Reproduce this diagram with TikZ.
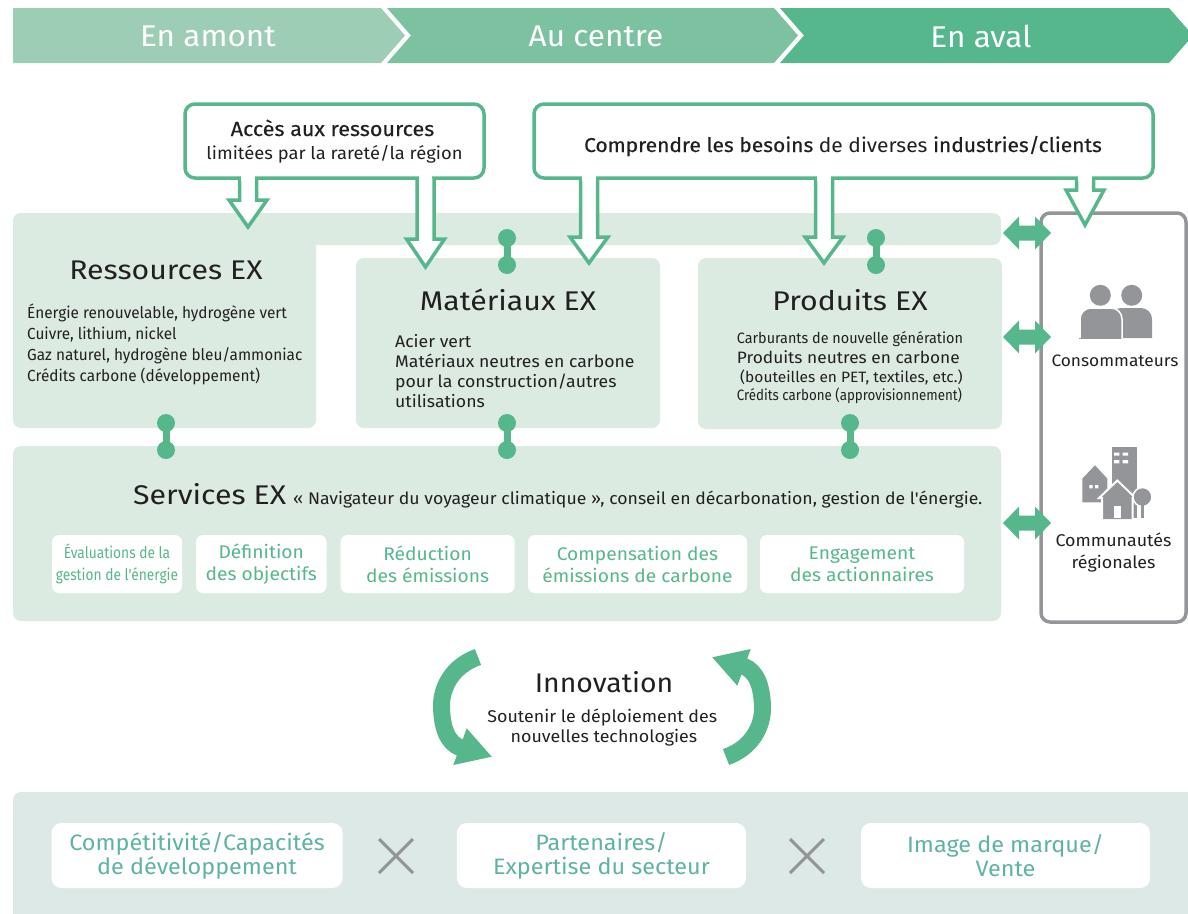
\documentclass[tikz,border=0pt]{standalone}
\usepackage{fontspec}
\setmainfont{Fira Sans}[FakeStretch=1.05,Ligatures=TeXOff]
\newfontfamily\cnd[FakeStretch=0.96]{Fira Sans}
\newfontfamily\xcnd[FakeStretch=0.86,Ligatures=TeXOff]{Fira Sans}
\newfontfamily\ttlf[FakeStretch=1.12]{Fira Sans}
\newfontfamily\medf[FakeStretch=1.05,FakeBold=0.35]{Fira Sans}
\definecolor{gr}{HTML}{56B78C}
\definecolor{chA}{HTML}{9DCDB4}
\definecolor{chB}{HTML}{7CC2A1}
\definecolor{pan}{HTML}{DCEBE1}
\definecolor{gry}{HTML}{939598}
\definecolor{botpan}{HTML}{DDE9E7}
\definecolor{tealt}{HTML}{5EB3A4}
\definecolor{ink}{HTML}{231F20}
\tikzset{
  panel/.style={fill=pan, rounded corners=8pt, inner sep=0pt, draw=none},
  wbox/.style={fill=white, rounded corners=7pt, inner sep=0pt, draw=none},
  bbox/.style={fill=white, rounded corners=10pt, inner sep=0pt, draw=none},
  callout/.style={draw=gr, fill=white, line width=3.5pt, line join=miter},
  hdr/.style={text=white, inner sep=0pt, font=\fontsize{30}{34}\selectfont},
  ttl/.style={text=ink, inner sep=0pt, font=\ttlf\fontsize{27}{30}\selectfont},
  lst/.style={text=ink, inner sep=0pt, anchor=base west},
  svc/.style={text=gr, inner sep=0pt, align=center, font=\fontsize{18.3}{22}\selectfont},
  btm/.style={text=tealt, inner sep=0pt, align=center, font=\fontsize{22.3}{24}\selectfont},
  dumbbell/.pic={\draw[gr, line width=7pt] (0,0) -- (0,27);
                 \fill[gr] (0,0) circle (9pt) (0,27) circle (9pt);},
  dblarrow/.pic={\fill[gr] (0,0) -- (16,-16.5) -- (16,-7.5) -- (32,-7.5) -- (32,-16.5) -- (48,0)
                 -- (32,16.5) -- (32,7.5) -- (16,7.5) -- (16,16.5) -- cycle;},
}
\newcommand\callarrow[3]{%
  \filldraw[callout] ({#1-8.5},178) -- ({#1-8.5},#2) -- ({#1-19},#2) -- (#1,#3) -- ({#1+19},#2) -- ({#1+8.5},#2) -- ({#1+8.5},178);
  \fill[white] ({#1-6.7},174) rectangle ({#1+6.7},181);}
\begin{document}
\begin{tikzpicture}[x=1pt,y=-1pt]
\useasboundingbox (0,0) rectangle (1188,913);
% header chevrons
\fill[chA] (13,8) -- (381,8) -- (405,35.5) -- (381,63) -- (13,63) -- cycle;
\fill[chB] (387,8) -- (774,8) -- (798,35.5) -- (774,63) -- (387,63) -- (411,35.5) -- cycle;
\fill[gr] (780,8) -- (1169,8) -- (1193,35.5) -- (1169,63) -- (780,63) -- (804,35.5) -- cycle;
\node[hdr] (h1) at (208,36) {En amont};
\node[hdr] (h2) at (596,36) {Au centre};
\node[hdr] (h3) at (981,36) {En aval};
% panels
\node[panel, minimum width=988pt, minimum height=32pt] (band) at (507,229) {};
\node[panel, minimum width=303pt, minimum height=215pt] (res) at (164.5,320.5) {};
\node[panel, minimum width=304pt, minimum height=170pt] (mat) at (508,343) {};
\node[panel, minimum width=304pt, minimum height=171pt] (pro) at (850,343.5) {};
\node[panel, minimum width=988pt, minimum height=175pt] (svc) at (507,533.5) {};
% dumbbells
\pic at (507,238) {dumbbell};
\pic at (876,238) {dumbbell};
\pic at (166,423) {dumbbell};
\pic at (507,423) {dumbbell};
\pic at (850,423) {dumbbell};
% side box
\node[draw=gry, line width=3.5pt, rounded corners=9pt, minimum width=145pt, minimum height=409pt, inner sep=0pt] (side) at (1113.5,417.5) {};
% people icon
\fill[gry] (1131.7,295.3) circle (10.5pt);
\fill[gry] (1110,338) [rounded corners=11pt] -- (1110,308) -- (1152,308) [sharp corners] -- (1152,338) -- cycle;
\fill[gry] (1100.3,295.3) circle (10.5pt);
\filldraw[fill=gry, draw=white, line width=1.5pt] (1080,338) [rounded corners=11pt] -- (1080,308) -- (1122,308) [sharp corners] -- (1122,338);
\fill[gry] (1079,337.5) rectangle (1121,339);
% buildings icon
\fill[gry] (1111.7,446.7) rectangle (1136.7,518);
\fill[white] (1114,452.7) rectangle (1119.3,455.7) (1122.7,452.7) rectangle (1128,455.7)
             (1114,460) rectangle (1119.3,463.3) (1122.7,460) rectangle (1128,463.3);
\filldraw[fill=gry, draw=white, line width=1.5pt] (1081.7,503) -- (1081.7,478) -- (1095,464) -- (1108,478) -- (1108,503) -- cycle;
\fill[white] (1089.3,485) rectangle (1092.7,488.3) (1095,485) rectangle (1098.3,488.3);
\filldraw[fill=gry, draw=white, line width=2pt] (1102,519) -- (1102,498) -- (1099,498) -- (1117.3,480.5) -- (1135.5,498) -- (1132.5,498) -- (1132.5,519);
\fill[white] (1114,506) rectangle (1120.5,518);
\filldraw[fill=gry, draw=white, line width=1.5pt] (1142.5,497) circle (9.5pt);
\fill[gry] (1140.8,504) rectangle (1144.2,518);
\node[text=ink, inner sep=0pt, anchor=base, font=\fontsize{16.5}{20}\selectfont] (cons) at (1115,366.8) {Consommateurs};
\node[text=ink, inner sep=0pt, anchor=base, font=\fontsize{17}{20}\selectfont] (comm1) at (1113.5,546.8) {Communautés};
\node[text=ink, inner sep=0pt, anchor=base, font=\fontsize{17}{20}\selectfont] (comm2) at (1113.5,568.8) {régionales};
% double arrows
\pic at (1003,233) {dblarrow};
\pic at (1003,337) {dblarrow};
\pic at (1003,523) {dblarrow};
% callouts
\node[draw=gr, fill=white, line width=3.5pt, rounded corners=10pt, minimum width=299pt, minimum height=74pt, inner sep=0pt] (c1) at (334.5,141) {};
\node[draw=gr, fill=white, line width=3.5pt, rounded corners=10pt, minimum width=619pt, minimum height=74pt, inner sep=0pt] (c2) at (843.5,141) {};
\callarrow{248}{200}{227}
\callarrow{425.5}{239}{267}
\callarrow{589}{237}{263}
\callarrow{824}{237}{263}
\callarrow{1085}{190}{225}
\node[text=ink, inner sep=0pt, anchor=base, font=\medf\fontsize{20.5}{22}\selectfont] (c1a) at (332.5,136) {Accès aux ressources};
\node[text=ink, inner sep=0pt, anchor=base, font=\fontsize{17.5}{20}\selectfont] (c1b) at (334.5,159.5) {limitées par la rareté/la région};
\node[text=ink, inner sep=0pt, anchor=base, font=\fontsize{20}{22}\selectfont] (c2a) at (843,152) {{\medf Comprendre les besoins} de diverses {\medf industries/clients}};
% titles
\node[ttl] (rt) at (166,270) {Ressources EX};
\node[ttl] (mt) at (508,300) {Matériaux EX};
\node[ttl] (pt) at (850,300) {Produits EX};
% ressources list
\begin{scope}[every node/.style={lst, font=\cnd\fontsize{16}{20}\selectfont}]
\node (r1) at (27,318.3) {Énergie renouvelable, hydrogène vert};
\node (r2) at (27,339.3) {Cuivre, lithium, nickel};
\node (r3) at (27,360.3) {Gaz naturel, hydrogène bleu/ammoniac};
\node (r4) at (27,381.3) {Crédits carbone (développement)};
\end{scope}
\begin{scope}[every node/.style={lst, font=\fontsize{16.8}{20}\selectfont}]
\node (m1) at (395,347.5) {Acier vert};
\node (m2) at (395,367.5) {Matériaux neutres en carbone};
\node (m3) at (395,387.5) {pour la construction/autres};
\node (m4) at (395,407.5) {utilisations};
\end{scope}
\node[lst, font=\cnd\fontsize{15}{20}\selectfont] (p1) at (736.7,343.3) {Carburants de nouvelle génération};
\node[lst, font=\fontsize{16.5}{20}\selectfont] (p2) at (736.7,363.1) {Produits neutres en carbone};
\node[lst, font=\cnd\fontsize{15}{20}\selectfont] (p3) at (740,382) {\scalebox{1.077}[1]{(bouteilles en PET, textiles, etc.)}};
\node[lst, font=\cnd\fontsize{15}{20}\selectfont] (p4) at (736.7,400.3) {\scalebox{0.926}[1]{Crédits carbone (approvisionnement)}};
% services
\node[lst] (st) at (133,504) {{\ttlf\fontsize{27}{30}\selectfont Services EX}\hspace{7pt}{\fontsize{16.8}{18}\selectfont « Navigateur du voyageur climatique », conseil en décarbonation, gestion de l'énergie.}};
\node[wbox, minimum width=130pt, minimum height=58pt] (s1) at (117,564) {};
\node[wbox, minimum width=130.5pt, minimum height=58pt] (s2) at (261.25,564) {};
\node[wbox, minimum width=174pt, minimum height=58pt] (s3) at (427.6,564) {};
\node[wbox, minimum width=219pt, minimum height=58pt] (s4) at (637.5,564) {};
\node[wbox, minimum width=204pt, minimum height=58pt] (s5) at (862,564) {};
\node[svc, font=\xcnd\fontsize{16}{22}\selectfont] (s1t) at (s1) {Évaluations de la\\gestion de l'énergie};
\node[svc] (s2t) at (s2) {Définition\\des objectifs};
\node[svc] (s3t) at (s3) {Réduction\\des émissions};
\node[svc] (s4t) at (s4) {Compensation des\\émissions de carbone};
\node[svc] (s5t) at (s5) {Engagement\\des actionnaires};
% innovation arrows
\begin{scope}
\draw[gr, line width=17pt] (478,657) .. controls (452,666) and (441,688) .. (441.5,707) .. controls (442,727) and (447,743) .. (461,748);
\fill[gr] (453.3,765) -- (466.7,728.3) -- (491.7,756.7) -- cycle;
\end{scope}
\begin{scope}[rotate around={180:(602,707)}]
\draw[gr, line width=17pt] (478,657) .. controls (452,666) and (441,688) .. (441.5,707) .. controls (442,727) and (447,743) .. (461,748);
\fill[gr] (453.3,765) -- (466.7,728.3) -- (491.7,756.7) -- cycle;
\end{scope}
\node[text=ink, inner sep=0pt, anchor=base, font=\fontsize{27}{32}\selectfont] (inn) at (604,692.8) {Innovation};
\node[text=ink, inner sep=0pt, anchor=base, font=\fontsize{17}{20}\selectfont] (inn1) at (602.3,722) {Soutenir le déploiement des};
\node[text=ink, inner sep=0pt, anchor=base, font=\fontsize{17}{20}\selectfont] (inn2) at (604,742.7) {nouvelles technologies};
% bottom panel
\fill[botpan, rounded corners=8pt] (13,792) rectangle (1200,930);
\node[bbox, minimum width=291pt, minimum height=65pt] (b1) at (197,855.5) {};
\node[bbox, minimum width=289pt, minimum height=65pt] (b2) at (601.4,855.5) {};
\node[bbox, minimum width=289pt, minimum height=65pt] (b3) at (1005.5,855.5) {};
\node[btm] (b1t) at (b1) {Compétitivité/Capacités\\de développement};
\node[btm] (b2t) at (b2) {Partenaires/\\Expertise du secteur};
\node[btm] (b3t) at (b3) {Image de marque/\\Vente};
\draw[gry, line width=3pt] (379,839) -- (413,873) (379,873) -- (413,839);
\draw[gry, line width=3pt] (790,839) -- (824,873) (790,873) -- (824,839);
\end{tikzpicture}
\end{document}
